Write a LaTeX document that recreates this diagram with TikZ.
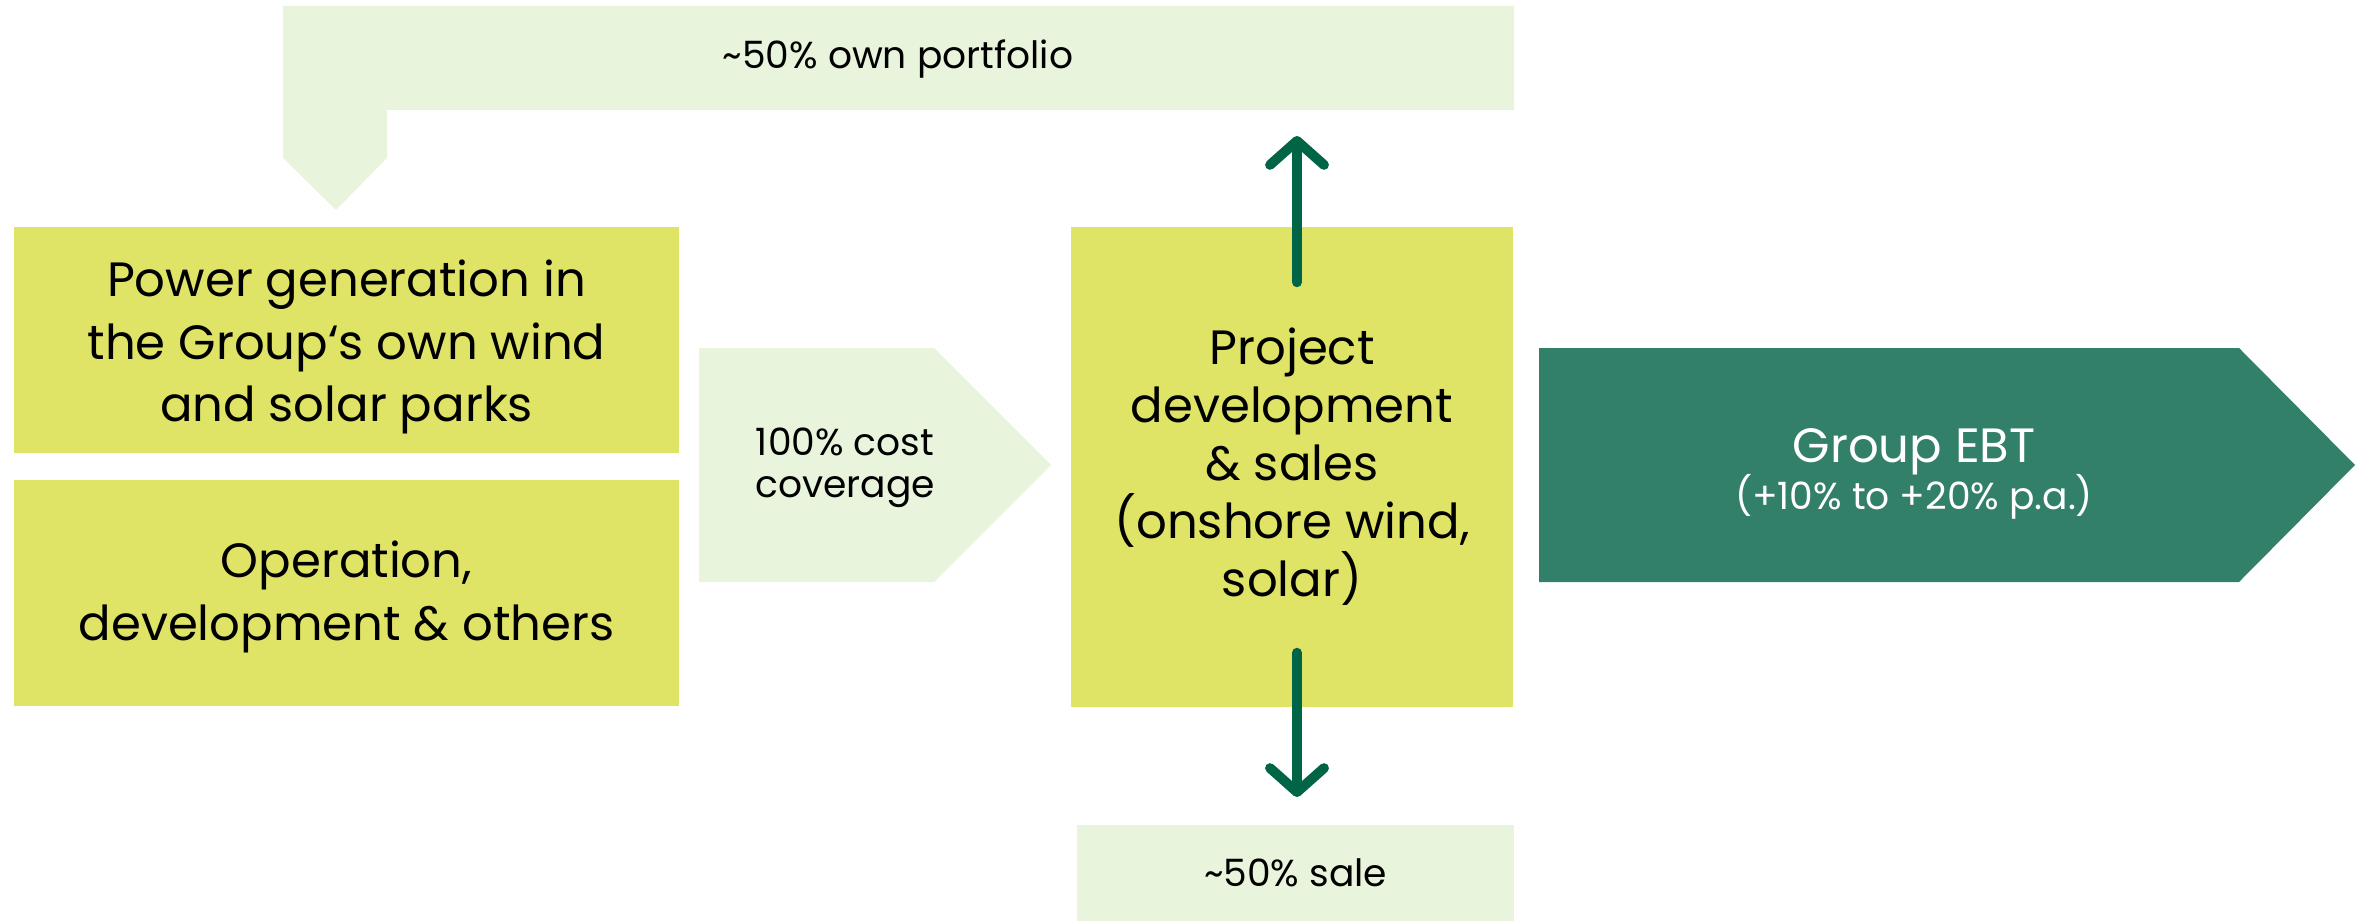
\documentclass[tikz,border=0pt]{standalone}
\usepackage{fontspec}
\setmainfont{Poppins}
\usetikzlibrary{arrows.meta}
\definecolor{limeFill}{HTML}{DFE467}
\definecolor{paleFill}{HTML}{E8F5DC}
\definecolor{ebtFill}{HTML}{33806A}
\definecolor{arrowGreen}{HTML}{006446}

\begin{document}
\begin{tikzpicture}[
  segment/.style={fill=limeFill, draw=none, inner sep=0pt, align=center, text=black,
    font=\fontsize{13.7}{17.8}\selectfont},
  share/.style={fill=paleFill, draw=none, inner sep=0pt, align=center, text=black,
    font=\fontsize{10.7}{12}\selectfont},
  flow/.style={arrowGreen, line width=2.8pt, line cap=round,
    -{Straight Barb[length=2.4mm, width=5.4mm, round]}}
]
\useasboundingbox (0,0) rectangle (23.61,9.23);

% bent band back to own portfolio
\fill[paleFill] (2.83,9.17) -- (15.14,9.17) -- (15.14,8.13) -- (3.87,8.13) -- (3.87,7.65)
  -- (3.36,7.13) -- (2.83,7.65) -- cycle;
\node[share, fill=none] (own) at (8.98,8.64) {\textasciitilde 50\% own portfolio};
\coordinate (ownin) at (12.97,7.87);

% segments
\node[segment, minimum width=6.65cm, minimum height=2.26cm] (power) at (3.465,5.83) {};
\node[segment, fill=none] (powertxt) at (3.465,5.76)
  {Power generation in\\the Group‘s own wind\\and solar parks};
\node[segment, minimum width=6.65cm, minimum height=2.26cm] (oper) at (3.465,3.30) {};
\node[segment, fill=none] (opertxt) at (3.465,3.26)
  {Operation,\\development \& others};

% cost coverage chevron
\fill[paleFill] (6.99,5.75) -- (9.34,5.75) -- (10.51,4.58) -- (9.34,3.41) -- (6.99,3.41) -- cycle;
\node[share, fill=none] (cost) at (8.45,4.55) {100\% cost\\coverage};

\node[segment, minimum width=4.42cm, minimum height=4.80cm,
  font=\fontsize{13.7}{16.5}\selectfont] (dev) at (12.92,4.56)
  {Project\\development\\\& sales\\(onshore wind,\\solar)};

% group EBT chevron
\fill[ebtFill] (15.39,5.75) -- (22.39,5.75) -- (23.55,4.58) -- (22.39,3.41) -- (15.39,3.41) -- cycle;
\node[align=center, text=white, inner sep=0pt,
  font={\fontsize{13.7}{13.4}\selectfont\lineskiplimit=-20pt}] (ebt) at (19.14,4.49)
  {Group EBT\\{\fontsize{10.7}{13.4}\selectfont(+10\% to +20\% p.a.)}};

\node[share, minimum width=4.37cm, minimum height=0.96cm] (sale) at (12.955,0.50)
  {\textasciitilde 50\% sale};
\coordinate (salein) at (12.97,1.26);

\draw[flow] ([xshift=0.05cm, yshift=-0.56cm]dev.north) -- (ownin);
\draw[flow] ([xshift=0.05cm, yshift=0.55cm]dev.south) -- (salein);

\end{tikzpicture}
\end{document}
